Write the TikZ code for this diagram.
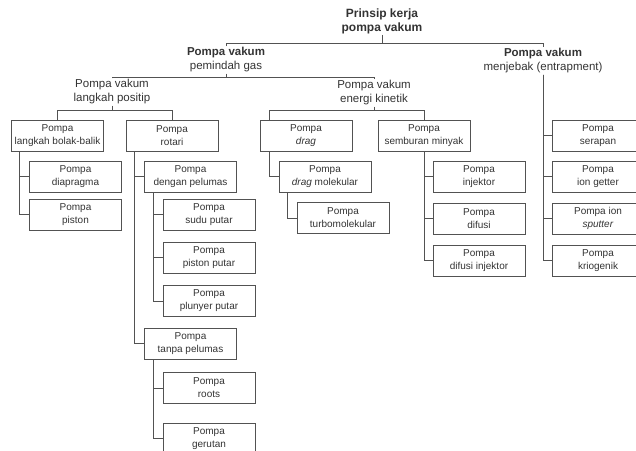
\documentclass[tikz,border=0pt]{standalone}
\usepackage{fontspec}
\setmainfont{Liberation Sans}
\definecolor{LineClr}{rgb}{0.32,0.32,0.32}
\definecolor{TextClr}{rgb}{0.2,0.2,0.2}
\tikzset{
  pbox/.style={draw=LineClr,line width=1pt,minimum width=92pt,minimum height=31pt,
    inner sep=0pt,align=center,text=TextClr,font=\fontsize{10}{13}\selectfont},
  hdr/.style={align=center,inner sep=1pt,text=TextClr,font=\fontsize{11.5}{14}\selectfont},
  link/.style={draw=LineClr,line width=0.9pt}
}

\begin{document}
\begin{tikzpicture}[x=1pt,y=-1pt]
\useasboundingbox (0,0) rectangle (636,450);
\clip (0,0) rectangle (636,450);

\coordinate (b0) at (0,43);
\coordinate (b1) at (0,77);
\coordinate (b2) at (0,110);

\node[hdr,font=\bfseries\fontsize{12}{14}\selectfont] (title) at (382,21) {Prinsip kerja\\pompa vakum};
\node[hdr] (pemindah) at (226,60) {\textbf{Pompa vakum}\\pemindah gas};
\node[hdr] (menjebak) at (543,61) {\textbf{Pompa vakum}\\menjebak (entrapment)};
\node[hdr] (positip) at (112,92) {Pompa vakum\\langkah positip};
\node[hdr] (kinetik) at (374,93) {Pompa vakum\\energi kinetik};

\node[pbox] (bolak) at (57.5,135.5) {Pompa\\langkah bolak-balik};
\node[pbox] (rotari) at (172,135.5) {Pompa\\rotari};
\node[pbox] (drag) at (306,135.5) {Pompa\\\textit{drag}};
\node[pbox] (semburan) at (424,135.5) {Pompa\\semburan minyak};
\node[pbox] (serapan) at (598,135.5) {Pompa\\serapan};

\node[pbox] (diapragma) at (75.5,176.5) {Pompa\\diapragma};
\node[pbox] (piston) at (75.5,214.5) {Pompa\\piston};

\node[pbox] (dengan) at (190.5,176.5) {Pompa\\dengan pelumas};
\node[pbox] (sudu) at (209,214.5) {Pompa\\sudu putar};
\node[pbox] (pistonputar) at (209,257.5) {Pompa\\piston putar};
\node[pbox] (plunyer) at (209,301) {Pompa\\plunyer putar};
\node[pbox] (tanpa) at (190.5,343.5) {Pompa\\tanpa pelumas};
\node[pbox] (roots) at (209,388) {Pompa\\roots};
\node[pbox] (gerutan) at (209,438.5) {Pompa\\gerutan};

\node[pbox] (dragmol) at (325,176.5) {Pompa\\\textit{drag} molekular};
\node[pbox] (turbo) at (343,218) {Pompa\\turbomolekular};

\node[pbox] (injektor) at (479,176.5) {Pompa\\injektor};
\node[pbox] (difusi) at (479,218.5) {Pompa\\difusi};
\node[pbox] (difinj) at (479,260.5) {Pompa\\difusi injektor};

\node[pbox] (getter) at (598,176.5) {Pompa\\ion getter};
\node[pbox] (sputter) at (598,218.5) {Pompa ion\\\textit{sputter}};
\node[pbox] (krio) at (598,260.5) {Pompa\\kriogenik};

\draw[link] (title.south) -- (title.south |- b0);
\draw[link] (pemindah.north) |- (b0 -| menjebak.north) -- (menjebak.north);
\draw[link] (pemindah.south) -- (pemindah.south |- b1);
\draw[link] (positip.north) |- (b1 -| kinetik.north) -- (kinetik.north);
\draw[link] (positip.south) -- (positip.south |- b2);
\draw[link] (bolak.north) |- (b2 -| rotari.north) -- (rotari.north);
\draw[link] (kinetik.south) -- (kinetik.south |- b2);
\draw[link] ([xshift=10]drag.north west) |- (b2 -| semburan.north) -- (semburan.north);

\foreach \n in {diapragma,piston} \draw[link] ([xshift=8]bolak.south west) |- (\n.west);
\foreach \n in {dengan,tanpa} \draw[link] ([xshift=9]rotari.south west) |- (\n.west);
\foreach \n in {sudu,pistonputar,plunyer} \draw[link] ([xshift=9]dengan.south west) |- (\n.west);
\foreach \n in {roots,gerutan} \draw[link] ([xshift=9]tanpa.south west) |- (\n.west);
\draw[link] ([xshift=10]drag.south west) |- (dragmol.west);
\draw[link] ([xshift=9]dragmol.south west) |- (turbo.west);
\foreach \n in {injektor,difusi,difinj} \draw[link] (semburan.south) |- (\n.west);
\foreach \n in {serapan,getter,sputter,krio} \draw[link] (menjebak.south) |- (\n.west);

\end{tikzpicture}
\end{document}
